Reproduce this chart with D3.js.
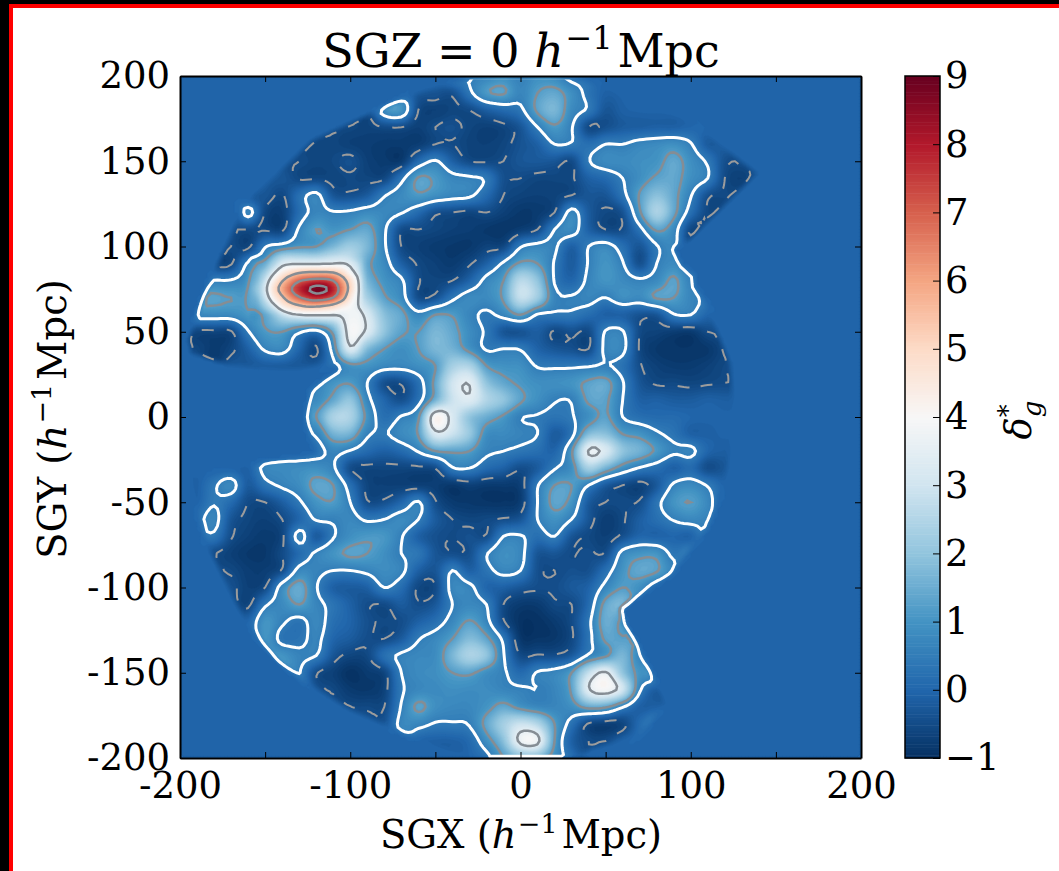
<!DOCTYPE html>
<html>
<head>
<meta charset="utf-8">
<script src="https://cdn.jsdelivr.net/npm/d3@7"></script>
<style>
  html, body { margin: 0; padding: 0; background: #fff; }
  svg { display: block; }
  text { font-family: "DejaVu Serif", serif; fill: #000; }
</style>
</head>
<body>
<svg id="chart" width="1059" height="871"></svg>
<script>
// density grid, rows y = 200 .. -200, columns x = -200 .. 200, step 10
var gridStep = 10;
var density = [
[0,0,0,0,0,0,0,0,0,0, 0,0,0,0,0,0,0,.55,.7,.9, .6, .9,.8,.3,0,0,0,0,0,0,0, 0,0,0,0,0,0,0,0,0,0],
[0,0,0,0,0,0,0,0,0,0, 0,0,.2,.3,-.3,-.35,-.4,.35,1.1,1.25, .7, 1.2,1.4,.9,.3,-.1,-.05,0,0,0,0, 0,0,0,0,0,0,0,0,0,0],
[0,0,0,0,0,0,0,0,0,0, 0,-.5,.9,1,-.5,-.7,-.6,-.5,-.15,.1, .35, 1.3,1.7,.8,.4,-.3,-.1,-.05,-.05,0,0, 0,0,0,0,0,0,0,0,0,0],
[0,0,0,0,0,0,0,0,0,0, -.6,-.65,-.5,-.5,-.7,-.5,-.4,-.6,-.7,-.6, -.3, .5,1.1,.55,-.5,-.4,-.2,-.15,-.1,-.1,0, 0,0,0,0,0,0,0,0,0,0],
[0,0,0,0,0,0,0,0,-.6,-.6, -.7,-.75,-.8,-.8,-.75,-.5,-.5,-.65,-.7,-.6, -.35, -.1,.5,.45,.2,.5,.5,.7,.8,.9,.55, -.2,-.25,0,0,0,0,0,0,0,0],
[0,0,0,0,0,0,0,-.5,-.6,-.55, -.4,-.7,-.8,-.8,.1,.55,-.1,-.5,-.55,-.5, -.3, -.25,-.3,-.5,.45,.8,.8,.9,1,1.4,.9, .4,-.4,-.5,-.05,0,0,0,0,0,0],
[0,0,0,0,0,0,-.3,-.55,-.55,-.6, -.55,-.6,-.55,.3,1.25,1.1,.7,.6,.4,-.4, -.5, -.6,-.6,-.55,-.1,.1,.5,.9,1.3,1.4,.9, .5,-.5,-.7,-.4,0,0,0,0,0,0],
[0,0,0,0,0,-.3,-.55,.2,.65,-.3, -.4,-.2,.45,.8,1.1,.9,.7,.6,.1,-.5, -.65, -.7,-.65,-.5,-.3,-.3,.3,1.25,1.9,1.4,.55, -.4,-.55,-.55,0,0,0,0,0,0,0],
[0,0,0,-.5,.7,-.55,-.7,.15,.7,.55, .6,.8,.75,.55,.1,-.4,-.5,-.6,-.5,-.7, -.85, -.8,-.5,.7,-.2,-.55,-.35,1.1,2.4,1.4,.2, -.55,-.6,0,0,0,0,0,0,0,0],
[0,0,0,-.5,-.5,-.55,-.6,.6,1.2,1, 1.2,1.4,.6,-.45,-.5,-.6,-.7,-.75,-.85,-.9, -.75, -.5,.5,.8,-.1,-.5,-.45,.3,1.3,.8,-.55, -.55,0,0,0,0,0,0,0,0,0],
[0,0,0,-.5,-.6,.45,.8,1.1,1.2,1.7, 2.2,1.7,.6,-.5,-.7,-.8,-.85,-.85,-.65,-.55, .45, .7,.6,-.1,.5,.75,.2,-.3,.45,.7,-.2, 0,0,0,0,0,0,0,0,0,0],
[0,0,0,-.55,.6,1.3,3.4,3.45,3.5,3.55, 3,1.4,.8,-.1,-.55,-.7,-.8,-.55,-.1,.6, 1.3, 1.2,.45,-.2,.55,1,.55,-.4,.5,.8,.3, 0,0,0,0,0,0,0,0,0,0],
[0,0,.55,.55,1.1,3.5,5.5,6.5,7.8,5.6, 3.5,1.7,1,.6,-.45,-.6,-.5,-.05,.7,1.2, 2.6, 2,.45,0,.65,1,.8,.6,.8,1.3,.6, 0,0,0,0,0,0,0,0,0,0],
[0,.1,1.3,1.2,1.3,3.2,5.2,7,7.2,6, 3.7,2.3,1.3,.8,-.45,-.35,.35,.8,.8,1.3, 2.8, 2.2,.7,.55,.7,.5,.9,.8,1.25,1.2,.7, .45,0,0,0,0,0,0,0,0,0],
[0,.8,.8,.8,1.1,1.6,2.8,3.3,3.4,3.4, 3.8,3.2,1.9,1.4,.7,1.2,1.15,.7,.4,.7, 1.2, .45,.4,.4,.15,-.1,-.1,-.35,-.3,.45,.5, 0,0,0,0,0,0,0,0,0,0],
[0,-.6,-.6,-.55,.45,1.1,1.2,.6,.3,1.4, 3.9,3.3,2,1.3,1.2,1.7,1.4,.85,.4,-.3, -.35, -.15,-.55,-.4,-.5,.55,.55,-.5,-.65,-.75,-.8, -.5,0,0,0,0,0,0,0,0,0],
[0,-.6,-.8,-.6,-.1,.6,.75,0,-.55,.8, 3.3,1.8,1.2,.9,1.2,1.7,1.6,1,.45,.5, .45, -.05,-.3,-.4,-.5,.65,.65,-.55,-.85,-.9,-.9, -.85,-.6,0,0,0,0,0,0,0,0],
[0,-.1,-.15,-.3,-.3,-.2,-.2,-.3,-.2,.4, 1,1,.75,.7,.9,1.2,2.3,2.4,1.2,.95, .9, .45,.4,.4,.45,.55,.25,-.45,-.7,-.8,-.8, -.7,-.55,0,0,0,0,0,0,0,0],
[0,0,0,0,0,0,0,0,.5,1, 1.15,.5,-.4,-.45,.2,1.4,3,3.45,2,1.4, 1.1, .9,.9,1,1.3,1.4,.55,-.3,-.55,-.55,-.6, -.55,-.5,0,0,0,0,0,0,0,0],
[0,0,0,0,0,0,0,0,.8,1.4, 2,.7,0,-.4,.25,1.6,2.9,3.3,2.5,2, 1.3, .9,.55,.55,1.3,1.3,.5,-.1,-.1,-.2,-.2, -.1,-.15,0,0,0,0,0,0,0,0],
[0,0,0,0,0,0,0,.1,1.2,2.4, 2.4,1,.2,.55,1.1,4.1,3.2,2,1.5,1.1, .55, .45,.3,.45,.9,1.3,.5,.2,.1,.1,0, -.05,-.05,0,0,0,0,0,0,0,0],
[0,0,0,0,0,0,0,0,.6,1.6, 1.6,.6,.45,.8,1.25,3.2,2.9,2.1,.9,.8, .65, .5,-.2,.3,1.8,1.9,1.2,1,.6,.3,-.1, -.1,-.05,0,0,0,0,0,0,0,0],
[0,0,0,0,0,.05,.2,.2,.25,.7, .45,.1,-.1,.1,.55,1.2,1.3,1.2,.65,.5, .35, .2,0,1.1,3.55,3.2,2,1.6,1.1,.6,.65, 0,-.15,0,0,0,0,0,0,0,0],
[0,0,0,-.05,-.1,.7,.8,.85,.9,.6, -.45,-.6,-.6,-.6,-.6,-.48,.45,.5,.1,-.1, -.45, -.2,.45,.9,2.3,1.6,.9,.45,.2,-.1,.1, -.45,-.3,0,0,0,0,0,0,0,0],
[0,-.1,.4,.75,-.2,.3,.6,.85,1.35,1.2, .2,-.6,-.7,-.7,-.7,-.75,-.85,-.7,-.8,-.8, -.7, .45,1.2,1.2,.5,-.2,-.5,-.65,-.25,.6,.8, .45,-.05,0,0,0,0,0,0,0,0],
[0,-.05,.45,.1,-.5,-.5,-.15,.4,1,1.15, .5,-.45,-.4,0,.55,-.45,-.8,-.85,-.9,-.9, -.75, .5,1.35,1,-.2,-.5,-.5,-.45,.3,1,1.2, .75,0,0,0,0,0,0,0,0,0],
[0,.3,.7,-.3,-.6,-.7,-.5,0,.55,.6, .75,.4,.5,.8,.5,-.2,-.5,-.6,-.55,-.45, -.3, .5,.95,.5,-.3,-.75,-.55,-.15,.2,.55,.75, .65,0,0,0,0,0,0,0,0,0],
[0,0,.35,-.45,-.7,-.8,-.6,.7,-.2,.45, .9,1.1,1.05,.55,-.1,-.4,-.5,-.4,-.45,.5, .55, .2,.5,-.3,-.55,-.7,-.4,0,-.05,0,-.05, 0,0,0,0,0,0,0,0,0,0],
[0,0,-.5,-.7,-.85,-.85,-.5,.1,.6,1, 1.3,1.2,.9,.5,.35,-.3,-.45,-.4,.45,.9, .7, -.3,-.3,-.5,-.45,-.45,.7,1,1,.35,.6, 0,0,0,0,0,0,0,0,0,0],
[0,0,0,-.55,-.75,-.75,-.45,.7,.65,.5, .5,.65,.85,.65,-.1,-.3,.5,-.1,.3,.7, .5, -.4,-.5,-.4,-.4,.2,1,1.4,1.25,.7,0, 0,0,0,0,0,0,0,0,0,0],
[0,0,0,-.4,-.7,-.5,.8,1.45,.55,-.1, -.2,-.1,.5,.15,-.55,-.5,.7,.65,0,-.1, -.3, -.45,-.45,-.25,-.05,.7,1.2,.9,.4,0,0, 0,0,0,0,0,0,0,0,0,0],
[0,0,0,0,-.6,.4,.8,1.2,.7,.3, -.1,-.45,-.5,-.2,-.45,-.25,.5,.75,.5,-.5, -.8, -.8,-.55,-.5,.1,1.4,1.7,.1,0,0,0, 0,0,0,0,0,0,0,0,0,0],
[0,0,0,0,0,1,.6,.3,.75,.2, -.05,-.4,-.55,-.45,-.1,.2,.75,1.25,.7,-.45, -.95, -.95,-.8,-.5,.35,1.5,1.1,0,0,0,0, 0,0,0,0,0,0,0,0,0,0],
[0,0,0,0,0,1,.3,.3,.65,0, -.2,-.45,-.5,-.2,.45,.75,1.2,1.8,1.35,.35, -.85, -.9,-.85,-.55,.3,1.3,1.25,.25,0,0,0, 0,0,0,0,0,0,0,0,0,0],
[0,0,0,0,0,0,1,.65,.5,-.3, -.6,-.55,.2,.6,.75,.85,1.7,2.4,2,.55, -.5, -.45,-.45,-.2,.6,1.1,1.7,.7,0,0,0, 0,0,0,0,0,0,0,0,0,0],
[0,0,0,0,0,0,0,.55,-.45,-.7, -.95,-.8,-.6,.5,.8,.9,1.2,1.3,.9,.6, .1, .55,.7,1.2,2.8,3.6,2,1,-.1,0,0, 0,0,0,0,0,0,0,0,0,0],
[0,0,0,0,0,0,0,0,-.35,-.55, -.8,-.85,-.65,.4,.75,.8,.9,.85,.85,.7, .6, .5,.7,1.3,3.4,3.9,3,.6,-.2,0,0, 0,0,0,0,0,0,0,0,0,0],
[0,0,0,0,0,0,0,0,0,-.5, -.55,-.55,-.5,.55,1.3,.9,.75,.75,1,1.4, 1, .75,.7,.9,1.4,1.3,.55,-.1,-.1,0,0, 0,0,0,0,0,0,0,0,0,0],
[0,0,0,0,0,0,0,0,0,0, -.3,-.4,-.35,.7,.7,.45,.45,.55,1.4,2.3, 2.9, 2.5,1.2,.25,-.55,-.7,-.6,.1,.6,.55,0, 0,0,0,0,0,0,0,0,0,0],
[0,0,0,0,0,0,0,0,0,0, 0,0,0,-.05,0,-.1,-.1,.1,.9,1.9, 3.7, 3.7,1.2,-.1,-.5,-.5,-.1,0,0,0,0, 0,0,0,0,0,0,0,0,0,0],
[0,0,0,0,0,0,0,0,0,0, 0,0,0,0,0,0,0,0,.3,1.2, 1.8, 1.8,.9,.2,0,0,0,0,0,0,0, 0,0,0,0,0,0,0,0,0,0]
];

// finer reading of the narrow main peak: y = 95 .. 55, x = -160 .. -90, step 5
var peakStep = 5;
var peakDensity = [
[.8,1,1.3,1.8,2.3,2.6,2.7,2.7,2.7,2.7,2.8,2.9,2.7,2.2,1.6],
[1,1.2,1.5,2.4,3.2,3.4,3.4,3.4,3.4,3.45,3.5,3.55,3.3,2.6,1.5],
[1.1,1.5,2.2,3.3,4.2,4.8,5.2,5.4,5.4,5.4,5.3,4.8,3.9,3,1.7],
[1.1,1.7,2.9,4.2,5.3,6.2,6.9,7.2,7.4,7.4,7,6,4.8,3.5,2],
[1.3,2,3.2,4.7,5.9,6.9,7.7,8.4,8.9,8.7,7.8,6.5,5,3.6,2.2],
[1.2,1.7,2.9,4.2,5.2,6.2,6.9,7.4,7.7,7.5,7,6,4.5,3.5,2.4],
[1.1,1.4,2.2,3.2,4.2,4.8,5.2,5.5,5.5,5.3,5,4.4,4,3.5,2.7],
[.7,1,1.4,2,2.8,3.3,3.5,3.6,3.6,3.6,3.55,3.6,3.8,3.8,3.4],
[.6,.8,1.1,1.4,1.7,2,2.2,2.5,2.7,2.9,3,3.4,3.9,3.9,3.6]
];

// outline of the surveyed area
var surveyX = [-25,25,50,99,142,100,92,96,104,104,111,125,128,122,111,95,90,68,61,63,70,77,87,71,43,30,-25,-50,-100,-129,-144,-163,-174,-186,-193,-195,-151,-133,-122,-126,-127,-125,-109,-141,-170,-195,-197,-192,-183,-167,-166,-162,-123,-64,-35];
var surveyY = [204,204,195,176,143,102,98,90,84,77,67,32,0,-39,-66,-86,-93,-108,-113,-121,-133,-147,-168,-189,-196,-204,-204,-195,-174,-156,-144,-122,-100,-75,-50,-34,-25,-23,-20,-10,0,17,28,26,28,36,45,60,83,118,127,127,164,191,199];
var edgeFade = 4;

var colorStops = [-1,0,1,2,3,4,5,6,7,8,9];
var colorValues = ["#053061","#2166ac","#4393c3","#92c5de","#d1e5f0","#f7f7f7","#fddbc7","#f4a582","#d6604d","#b2182b","#67001f"];
var dashedLevels = [-.5];
var whiteLevels = [.5];
var greyLevels = [1.2,3.5,5.4,7,8.5];
var xTicks = [-200,-150,-100,-50,0,50,100,150,200];
var xTickLabels = [-200,-100,0,100,200];
var yTicks = [-200,-150,-100,-50,0,50,100,150,200];
var barTicks = [-1,0,1,2,3,4,5,6,7,8,9];

var plot = {left: 180, right: 861, top: 76, bottom: 758};
var bar = {left: 905, right: 940};
var fieldStep = 2;

var svg = d3.select("#chart");
var x = d3.scaleLinear().domain([-200,200]).range([plot.left,plot.right]);
var y = d3.scaleLinear().domain([-200,200]).range([plot.bottom,plot.top]);
var color = d3.scaleLinear().domain(colorStops).range(colorValues).clamp(true);
var barY = d3.scaleLinear().domain([-1,9]).range([plot.bottom,plot.top]);

function catmull(a,b,c,d,t) {
  return .5*(2*b + (c-a)*t + (2*a-5*b+4*c-d)*t*t + (3*b-a-3*c+d)*t*t*t);
}

function sample(rows, x0, y0, step, px, py) {
  var u = (px-x0)/step, v = (y0-py)/step
    , i = Math.floor(u), j = Math.floor(v)
    , nr = rows.length, nc = rows[0].length
    , vals = [];
  for (var n = -1; n <= 2; n++) {
    var r = rows[Math.max(0,Math.min(nr-1,j+n))];
    vals.push(catmull(
      r[Math.max(0,Math.min(nc-1,i-1))],
      r[Math.max(0,Math.min(nc-1,i))],
      r[Math.max(0,Math.min(nc-1,i+1))],
      r[Math.max(0,Math.min(nc-1,i+2))],
      u-i));
  }
  return catmull(vals[0],vals[1],vals[2],vals[3],v-j);
}

var survey = surveyX.map(function (d,i) { return [d,surveyY[i]]; });

function edgeDistance(px,py) {
  var best = Infinity;
  survey.forEach(function (a,i) {
    var b = survey[(i+1)%survey.length]
      , dx = b[0]-a[0], dy = b[1]-a[1]
      , t = Math.max(0,Math.min(1,((px-a[0])*dx+(py-a[1])*dy)/(dx*dx+dy*dy)))
      , ex = a[0]+t*dx-px, ey = a[1]+t*dy-py
      , dist = ex*ex+ey*ey;
    if (dist < best) best = dist;
  });
  return Math.sqrt(best);
}

// grid points beyond the outline take the nearest value inside it, the edge fade does the rest
var inside = density.map(function (row,j) {
  return row.map(function (v,i) {
    return d3.polygonContains(survey,[-200+i*gridStep,200-j*gridStep]);
  });
});
var filled = density.map(function (row,j) {
  return row.map(function (v,i) {
    if (inside[j][i] || Math.abs(v) >= .3) return v;
    var best = Infinity, val = v;
    density.forEach(function (r2,j2) {
      r2.forEach(function (v2,i2) {
        var dist = (i2-i)*(i2-i)+(j2-j)*(j2-j);
        if (inside[j2][i2] && dist < best) { best = dist; val = v2; }
      });
    });
    return val;
  });
});

// resample onto a fine field for d3.contours
var fieldX = d3.range(-198,198+fieldStep,fieldStep);
var fieldY = d3.range(198,-198-fieldStep,-fieldStep);
var nx = fieldX.length, ny = fieldY.length;
var field = new Float64Array(nx*ny);
fieldY.forEach(function (py,j) {
  fieldX.forEach(function (px,i) {
    if (!d3.polygonContains(survey,[px,py])) { field[j*nx+i] = 0; return; }
    var v = sample(filled,-200,200,gridStep,px,py)
      , w = Math.min(px+160,-90-px,95-py,py-55)/peakStep;
    if (w > 0) {
      w = Math.min(w,1);
      v = v*(1-w) + sample(peakDensity,-160,95,peakStep,px,py)*w;
    }
    field[j*nx+i] = v*Math.min(1,edgeDistance(px,py)/edgeFade);
  });
});
var negField = field.map(function (v) { return -v; });

var toPlot = d3.geoTransform({
  point: function (cx,cy) {
    this.stream.point(x(-198+(cx-.5)*fieldStep), y(198-(cy-.5)*fieldStep));
  }
});
var path = d3.geoPath(toPlot);
var contours = d3.contours().size([nx,ny]).smooth(true);

// page frame
svg.append("rect").attr("width",1059).attr("height",871).attr("fill","#000");
svg.append("rect").attr("x",9).attr("y",4).attr("width",1050).attr("height",867).attr("fill","#f00");
svg.append("rect").attr("x",13).attr("y",8).attr("width",1046).attr("height",863).attr("fill","#fff");

var defs = svg.append("defs");
defs.append("clipPath").attr("id","plotClip").append("rect")
  .attr("x",plot.left).attr("y",plot.top)
  .attr("width",plot.right-plot.left).attr("height",plot.bottom-plot.top);
defs.append("clipPath").attr("id","lineClip").append("rect")
  .attr("x",plot.left).attr("y",plot.top+3.5)
  .attr("width",plot.right-plot.left).attr("height",plot.bottom-plot.top-3.5);

// filled map
var mapG = svg.append("g").attr("clip-path","url(#plotClip)");
mapG.append("rect")
  .attr("x",plot.left).attr("y",plot.top)
  .attr("width",plot.right-plot.left).attr("height",plot.bottom-plot.top)
  .attr("fill",color(0));
var bandStep = .07;
var bandLevels = d3.range(-1.4,9.2,bandStep);
mapG.selectAll("path.band")
  .data(contours.thresholds(bandLevels)(field))
  .enter().append("path")
  .attr("class","band")
  .attr("d",path)
  .attr("fill",function (d) { return color(d.value+bandStep/2); })
  .attr("stroke",function (d) { return color(d.value+bandStep/2); })
  .attr("stroke-width",.4);

// contour lines
var lineG = svg.append("g").attr("clip-path","url(#lineClip)").attr("fill","none");
dashedLevels.forEach(function (level) {
  lineG.append("path")
    .attr("d",path(contours.contour(negField,-level)))
    .attr("stroke","#9c9c9c").attr("stroke-width",2)
    .attr("stroke-dasharray","12,13");
});
greyLevels.forEach(function (level) {
  lineG.append("path")
    .attr("d",path(contours.contour(field,level)))
    .attr("stroke","#858d94").attr("stroke-width",2.5);
});
whiteLevels.forEach(function (level) {
  lineG.append("path")
    .attr("d",path(contours.contour(field,level)))
    .attr("stroke","#fff").attr("stroke-width",3);
});

// axes
var tickFont = 37;
function styleAxis(g) {
  g.selectAll(".domain").attr("stroke","#000").attr("stroke-width",2);
  g.selectAll(".tick line").attr("stroke","#000").attr("stroke-width",1);
  g.selectAll("text").attr("font-size",tickFont).attr("font-family","DejaVu Serif").attr("fill","#000");
}
svg.append("g").attr("transform","translate(0,"+plot.bottom+")")
  .call(d3.axisBottom(x).tickValues(xTicks).tickSizeInner(-6).tickSizeOuter(0).tickPadding(14)
    .tickFormat(function (d) { return xTickLabels.indexOf(d) >= 0 ? String(d) : ""; }))
  .call(styleAxis);
svg.append("g").attr("transform","translate(0,"+plot.top+")")
  .call(d3.axisTop(x).tickValues(xTicks).tickSizeInner(-6).tickSizeOuter(0).tickFormat(""))
  .call(styleAxis);
svg.append("g").attr("transform","translate("+plot.left+",0)")
  .call(d3.axisLeft(y).tickValues(yTicks).tickSizeInner(-6).tickSizeOuter(0).tickPadding(10)
    .tickFormat(String))
  .call(styleAxis);
svg.append("g").attr("transform","translate("+plot.right+",0)")
  .call(d3.axisRight(y).tickValues(yTicks).tickSizeInner(-6).tickSizeOuter(0).tickFormat(""))
  .call(styleAxis);

// labels with h^-1 Mpc
function unitLabel(sel, prefix) {
  sel.append("tspan").text(prefix);
  sel.append("tspan").attr("font-style","italic").text("h");
  sel.append("tspan").attr("font-size","0.7em").attr("dy","-0.55em").attr("dx","0.05em").text("\u22121");
  sel.append("tspan").attr("dy","0.39em").attr("dx","0.1em").text("Mpc");
}
var title = svg.append("text").attr("x",521).attr("y",67).attr("text-anchor","middle").attr("font-size",46);
unitLabel(title,"SGZ = 0 ");
var xTitle = svg.append("text").attr("x",521).attr("y",848).attr("text-anchor","middle").attr("font-size",38.5);
unitLabel(xTitle,"SGX (");
xTitle.append("tspan").text(")");
var yTitle = svg.append("text").attr("transform","translate(66,419) rotate(-90)").attr("text-anchor","middle").attr("font-size",38.5);
unitLabel(yTitle,"SGY (");
yTitle.append("tspan").text(")");

// colour bar
svg.append("g").selectAll("rect")
  .data(d3.range(-1,9,.04))
  .enter().append("rect")
  .attr("x",bar.left).attr("width",bar.right-bar.left)
  .attr("y",function (d) { return barY(d+.04); })
  .attr("height",function (d) { return barY(d)-barY(d+.04)+.5; })
  .attr("fill",function (d) { return color(d+.02); });
svg.append("rect")
  .attr("x",bar.left).attr("y",plot.top)
  .attr("width",bar.right-bar.left).attr("height",plot.bottom-plot.top)
  .attr("fill","none").attr("stroke","#000").attr("stroke-width",1.5);
svg.append("g").attr("transform","translate("+bar.right+",0)")
  .call(d3.axisRight(barY).tickValues(barTicks).tickSizeInner(-7).tickSizeOuter(0).tickPadding(5)
    .tickFormat(function (d) { return d < 0 ? "\u2212"+(-d) : String(d); }))
  .call(styleAxis)
  .call(function (g) { g.select(".domain").attr("stroke","none"); });

var barLabel = svg.append("text").attr("transform","translate(1031,420) rotate(-90)").attr("text-anchor","middle").attr("font-size",37);
barLabel.append("tspan").attr("font-style","italic").text("\u03b4");
barLabel.append("tspan").attr("font-size","0.7em").attr("dy","-0.55em").text("*");
barLabel.append("tspan").attr("font-size","0.7em").attr("font-style","italic").attr("dy","0.95em").attr("dx","-0.5em").text("g");
</script>
</body>
</html>
